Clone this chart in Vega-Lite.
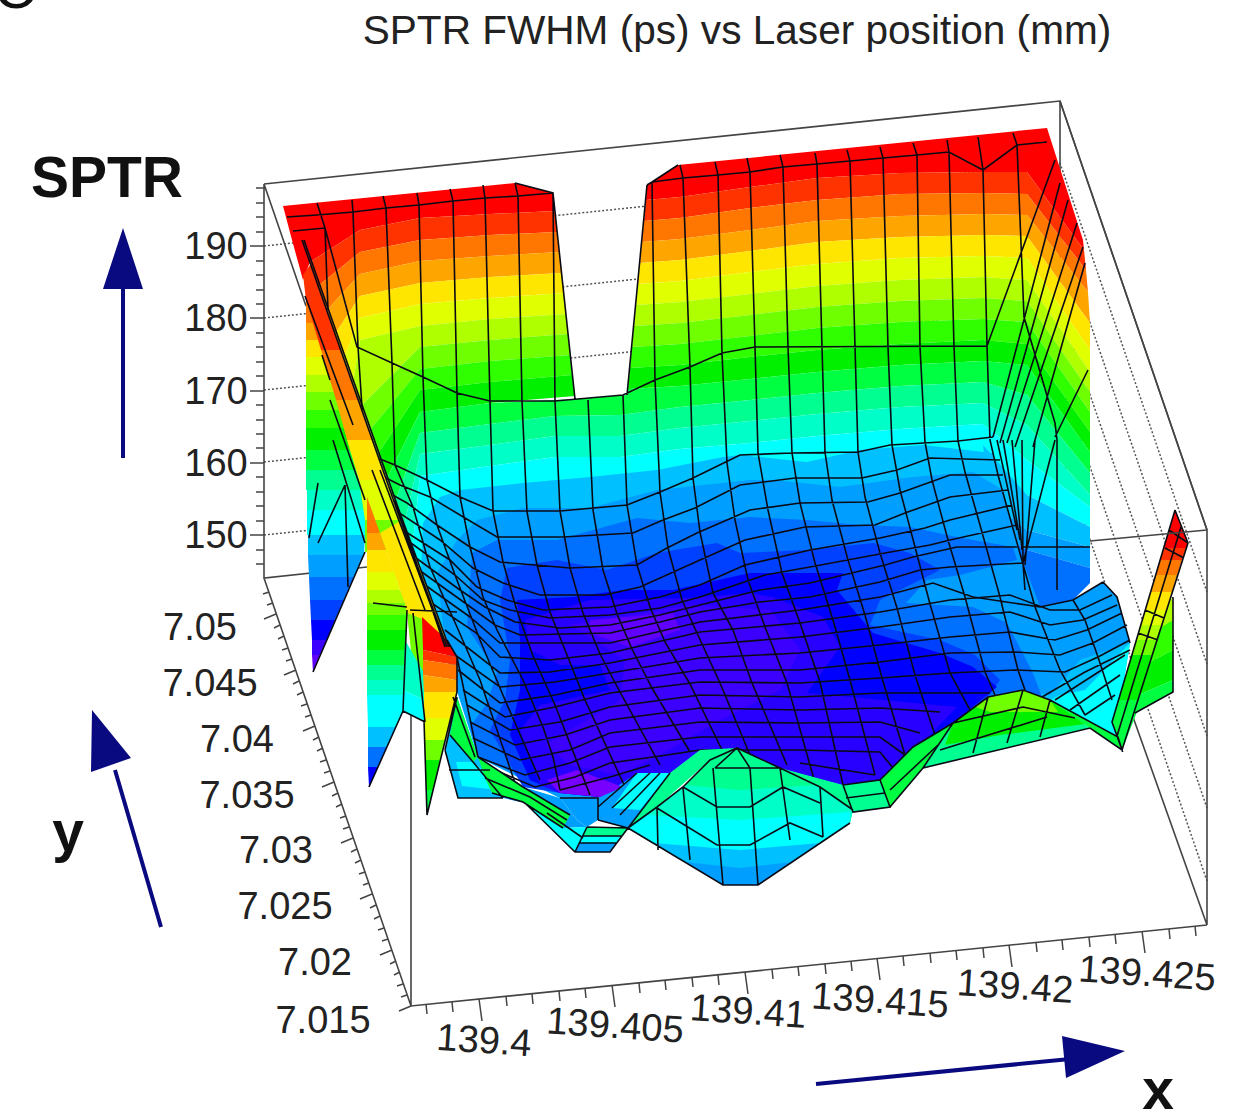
{"$schema":"https://vega.github.io/schema/vega-lite/v6.json","width":1234,"height":1110,"padding":0,"autosize":"none","background":"white","config":{"view":{"stroke":null}},"projection":{"type":"identity","scale":1,"translate":[0,0]},
"datasets":{
"grid":[{"type":"Feature","geometry":{"type":"MultiLineString","coordinates":[[[264,246],[1060,163],[1207,592]],[[264,318],[1060,235],[1207,664]],[[264,390],[1060,307],[1207,736]],[[264,462],[1060,379],[1207,808]],[[264,535],[1060,452],[1207,881]]]}}],
"backFrame":[{"type":"Feature","geometry":{"type":"MultiLineString","coordinates":[[[264,184],[1060,101],[1207,530],[1207,925]],[[264,184],[264,578],[367,567]],[[264,184],[306,306]],[[1060,101],[1060,300]],[[1133,717],[1207,925]],[[264,578],[411,1006],[1207,925]],[[411,712],[411,1006]]]}}],
"wall":[
{"type":"Feature","sptr":192,"geometry":{"type":"Polygon","coordinates":[[[283,206],[515,183],[553,193],[555,211],[490,214],[420,218],[360,230],[310,262],[303,280],[292,240],[283,206]]]}},
{"type":"Feature","sptr":189,"geometry":{"type":"Polygon","coordinates":[[[310,262],[360,230],[420,218],[490,214],[555,211],[557,232],[490,235],[420,240],[360,252],[318,286],[310,262]]]}},
{"type":"Feature","sptr":186,"geometry":{"type":"Polygon","coordinates":[[[318,286],[360,252],[420,240],[490,235],[557,232],[559,252],[490,256],[420,261],[360,274],[327,310],[318,286]]]}},
{"type":"Feature","sptr":183,"geometry":{"type":"Polygon","coordinates":[[[327,310],[360,274],[420,261],[490,256],[559,252],[562,273],[490,277],[420,283],[360,296],[335,334],[327,310]]]}},
{"type":"Feature","sptr":180,"geometry":{"type":"Polygon","coordinates":[[[335,334],[360,296],[420,283],[490,277],[562,273],[564,293],[490,298],[420,304],[360,318],[344,358],[335,334]]]}},
{"type":"Feature","sptr":177,"geometry":{"type":"Polygon","coordinates":[[[344,358],[360,318],[420,304],[490,298],[564,293],[566,314],[490,319],[420,326],[360,340],[353,382],[344,358]]]}},
{"type":"Feature","sptr":174,"geometry":{"type":"Polygon","coordinates":[[[353,382],[360,340],[420,326],[490,319],[566,314],[568,334],[490,340],[420,347],[361,406],[353,382]]]}},
{"type":"Feature","sptr":171,"geometry":{"type":"Polygon","coordinates":[[[361,406],[420,347],[490,340],[568,334],[570,355],[490,361],[420,369],[370,430],[361,406]]]}},
{"type":"Feature","sptr":168,"geometry":{"type":"Polygon","coordinates":[[[370,430],[420,369],[490,361],[570,355],[572,375],[490,382],[420,390],[378,454],[370,430]]]}},
{"type":"Feature","sptr":165,"geometry":{"type":"Polygon","coordinates":[[[378,454],[420,390],[490,382],[572,375],[575,396],[490,403],[420,412],[387,478],[378,454]]]}},
{"type":"Feature","sptr":192,"geometry":{"type":"Polygon","coordinates":[[[647,185],[678,165],[1047,128],[1083,240],[1084,250],[1027,172],[983,172],[900,173],[817,178],[750,187],[680,197],[646,200],[647,185]]]}},
{"type":"Feature","sptr":189,"geometry":{"type":"Polygon","coordinates":[[[646,200],[680,197],[750,187],[817,178],[900,173],[983,172],[1027,172],[1084,250],[1086,270],[1027,194],[983,193],[900,194],[817,200],[750,208],[680,218],[644,221],[646,200]]]}},
{"type":"Feature","sptr":186,"geometry":{"type":"Polygon","coordinates":[[[644,221],[680,218],[750,208],[817,200],[900,194],[983,193],[1027,194],[1086,270],[1088,292],[1027,215],[983,214],[900,216],[817,221],[750,230],[680,239],[642,242],[644,221]]]}},
{"type":"Feature","sptr":183,"geometry":{"type":"Polygon","coordinates":[[[642,242],[680,239],[750,230],[817,221],[900,216],[983,214],[1027,215],[1088,292],[1090,323],[1027,236],[983,235],[900,237],[817,242],[750,251],[680,260],[640,263],[642,242]]]}},
{"type":"Feature","sptr":180,"geometry":{"type":"Polygon","coordinates":[[[640,263],[680,260],[750,251],[817,242],[900,237],[983,235],[1027,236],[1090,323],[1090,350],[1027,258],[983,256],[900,258],[817,264],[750,272],[680,281],[638,284],[640,263]]]}},
{"type":"Feature","sptr":177,"geometry":{"type":"Polygon","coordinates":[[[638,284],[680,281],[750,272],[817,264],[900,258],[983,256],[1027,258],[1090,350],[1090,372],[1027,280],[983,277],[900,280],[817,286],[750,294],[680,302],[636,305],[638,284]]]}},
{"type":"Feature","sptr":174,"geometry":{"type":"Polygon","coordinates":[[[636,305],[680,302],[750,294],[817,286],[900,280],[983,277],[1027,280],[1090,372],[1090,392],[1027,301],[983,298],[900,301],[817,307],[750,315],[680,323],[634,326],[636,305]]]}},
{"type":"Feature","sptr":171,"geometry":{"type":"Polygon","coordinates":[[[634,326],[680,323],[750,315],[817,307],[900,301],[983,298],[1027,301],[1090,392],[1090,412],[1027,322],[983,319],[900,322],[817,328],[750,336],[680,344],[632,347],[634,326]]]}},
{"type":"Feature","sptr":168,"geometry":{"type":"Polygon","coordinates":[[[632,347],[680,344],[750,336],[817,328],[900,322],[983,319],[1027,322],[1090,412],[1090,432],[1027,344],[983,340],[900,344],[817,350],[750,357],[680,365],[630,368],[632,347]]]}},
{"type":"Feature","sptr":165,"geometry":{"type":"Polygon","coordinates":[[[630,368],[680,365],[750,357],[817,350],[900,344],[983,340],[1027,344],[1090,432],[1090,452],[1027,365],[983,361],[900,365],[817,372],[750,379],[680,386],[628,389],[630,368]]]}},
{"type":"Feature","sptr":162,"geometry":{"type":"Polygon","coordinates":[[[387,478],[420,412],[490,403],[575,399],[627,395],[628,389],[680,386],[750,379],[817,372],[900,365],[983,361],[1027,365],[1090,452],[1090,473],[1027,395],[983,382],[900,386],[817,393],[750,400],[680,407],[620,415],[555,416],[490,424],[420,433],[395,502],[387,478]]]}},
{"type":"Feature","sptr":159,"geometry":{"type":"Polygon","coordinates":[[[395,502],[420,433],[490,424],[555,416],[620,415],[680,407],[750,400],[817,393],[900,386],[983,382],[1027,395],[1090,473],[1090,495],[1027,425],[983,403],[900,407],[817,414],[750,421],[680,428],[620,436],[555,436],[490,445],[420,454],[404,526],[395,502]]]}},
{"type":"Feature","sptr":156,"geometry":{"type":"Polygon","coordinates":[[[404,526],[420,454],[490,445],[555,436],[620,436],[680,428],[750,421],[817,414],[900,407],[983,403],[1027,425],[1090,495],[1090,507],[1027,460],[983,424],[900,429],[817,436],[750,443],[680,449],[620,457],[555,457],[490,466],[420,476],[412,550],[404,526]]]}},
{"type":"Feature","sptr":153,"geometry":{"type":"Polygon","coordinates":[[[412,550],[420,476],[490,466],[555,457],[620,457],[680,449],[750,443],[817,436],[900,429],[983,424],[1027,460],[1090,507],[1090,527],[1027,495],[983,470],[900,472],[817,478],[750,484],[680,490],[620,498],[555,498],[490,507],[430,530],[421,574],[412,550]]]}},
{"type":"Feature","sptr":150,"geometry":{"type":"Polygon","coordinates":[[[983,445],[1027,495],[1090,527],[1090,547],[1027,530],[990,500],[983,445]]]}},
{"type":"Feature","sptr":147,"geometry":{"type":"Polygon","coordinates":[[[990,500],[1027,530],[1090,547],[1090,568],[1027,550],[990,530],[990,500]]]}},
{"type":"Feature","sptr":144,"geometry":{"type":"Polygon","coordinates":[[[990,530],[1027,550],[1090,568],[1090,583],[1073,600],[1040,607],[1000,590],[990,530]]]}}
],
"floor":[
{"type":"Feature","sptr":150,"geometry":{"type":"Polygon","coordinates":[[[421,574],[423,523],[440,497],[460,490],[523,483],[590,477],[657,470],[723,457],[740,455],[807,462],[860,450],[923,445],[993,453],[1017,547],[1040,607],[1073,600],[1103,582],[1117,597],[1130,643],[1115,735],[1050,700],[1023,690],[988,697],[953,723],[913,747],[880,780],[843,785],[780,768],[740,750],[700,750],[670,773],[637,773],[598,807],[560,798],[478,757],[447,650],[421,574]]]}},
{"type":"Feature","sptr":147,"geometry":{"type":"Polygon","coordinates":[[[437,573],[457,540],[477,520],[523,508],[590,508],[657,490],[750,480],[773,480],[840,487],[913,477],[973,472],[1003,490],[1017,547],[1040,607],[1073,600],[1103,582],[1117,597],[1130,643],[1080,660],[1050,695],[1023,690],[988,697],[953,723],[913,747],[880,780],[843,785],[780,768],[740,750],[700,750],[670,773],[637,773],[598,807],[560,798],[478,757],[447,660],[437,573]]]}},
{"type":"Feature","sptr":144,"geometry":{"type":"Polygon","coordinates":[[[472,553],[497,540],[557,540],[637,518],[690,523],[750,517],[807,520],[860,525],[910,527],[957,537],[1013,547],[1017,560],[960,575],[927,580],[906,603],[973,607],[1007,623],[1033,673],[1042,697],[1023,690],[988,697],[953,723],[913,747],[880,780],[843,785],[780,768],[740,750],[700,750],[670,773],[637,773],[600,797],[560,793],[478,757],[470,727],[487,703],[497,673],[467,627],[472,553]]]}},
{"type":"Feature","sptr":141,"geometry":{"type":"Polygon","coordinates":[[[507,568],[557,560],[607,570],[657,553],[717,543],[740,553],[807,550],[873,543],[910,553],[940,570],[880,600],[870,625],[940,640],[975,655],[1000,680],[988,697],[953,723],[913,747],[880,780],[843,785],[780,768],[740,750],[700,750],[670,773],[637,773],[600,797],[560,793],[523,787],[490,730],[505,700],[510,660],[500,600],[507,568]]]}},
{"type":"Feature","sptr":138,"geometry":{"type":"Polygon","coordinates":[[[517,600],[573,597],[623,590],[673,590],[750,573],[807,573],[843,573],[837,590],[873,633],[940,653],[973,667],[997,687],[953,723],[913,747],[880,780],[843,785],[780,768],[740,750],[700,750],[670,773],[637,773],[600,797],[560,793],[530,780],[510,735],[520,690],[520,640],[517,600]]]}},
{"type":"Feature","sptr":135,"geometry":{"type":"Polygon","coordinates":[[[525,620],[590,600],[690,598],[750,593],[773,597],[823,617],[840,647],[807,693],[883,700],[957,707],[930,735],[900,765],[880,780],[843,785],[780,768],[740,750],[700,750],[670,773],[637,773],[600,797],[560,793],[540,785],[520,730],[540,705],[610,690],[600,665],[560,665],[530,650],[525,620]]]}},
{"type":"Feature","sptr":132,"geometry":{"type":"Polygon","coordinates":[[[570,625],[690,605],[770,610],[800,650],[780,690],[720,720],[660,755],[620,775],[570,765],[545,745],[620,700],[625,660],[570,625]]]}},
{"type":"Feature","sptr":129,"geometry":{"type":"Polygon","coordinates":[[[590,620],[673,613],[680,630],[630,647],[590,633],[590,620]]]}},
{"type":"Feature","sptr":126,"geometry":{"type":"Polygon","coordinates":[[[547,780],[577,770],[623,787],[600,797],[560,793],[547,780]]]}},
{"type":"Feature","sptr":153,"geometry":{"type":"Polygon","coordinates":[[[1130,643],[1115,735],[1050,700],[1060,695],[1085,690],[1130,643]]]}}
],
"mesh":[{"type":"Feature","geometry":{"type":"MultiLineString","coordinates":[
[[287,217],[317,215],[353,212],[386,208],[419,205],[453,201],[485,198],[518,196],[553,193]],
[[515,183],[553,193],[575,399]],[[647,185],[627,395]],[[647,185],[652,182],[678,165]],
[[652,182],[683,178],[718,175],[750,172],[783,167],[817,164],[850,161],[883,158],[917,155],[949,152],[983,170],[1017,145],[1047,142]],
[[293,231],[325,228],[357,347],[392,363],[423,377],[457,393],[490,401],[555,401],[623,395],[655,380],[690,367],[722,353],[755,347],[987,346],[1055,160]],
[[317,203],[325,228],[328,310]],
[[352,200],[353,212],[358,347],[365,453]],
[[383,196],[386,208],[392,363],[395,465],[413,507],[430,567],[457,627],[480,680],[515,783]],
[[417,193],[419,205],[423,377],[427,480],[437,525],[455,575],[480,640],[505,700],[540,780]],
[[450,189],[453,201],[457,393],[460,497],[470,547],[483,597],[497,630],[523,680],[543,727],[553,757],[560,790]],
[[483,185],[485,198],[490,401],[493,511],[503,562],[517,611],[533,656],[555,705],[590,795]],
[[515,183],[518,196],[522,401],[527,512],[537,565],[550,612],[567,655],[585,700],[625,787]],
[[553,193],[555,401],[560,511],[570,568],[583,613],[600,654],[620,692],[660,765]],
[[588,400],[593,510],[603,570],[617,614],[632,649],[652,688],[690,752]],
[[623,395],[627,505],[637,565],[650,607],[665,642],[690,684],[722,750]],
[[652,182],[655,380],[660,492],[668,548],[682,600],[697,633],[720,683],[750,755]],
[[680,165],[683,178],[690,367],[693,478],[700,532],[713,593],[733,630],[752,683],[787,765]],
[[715,162],[718,175],[722,353],[727,463],[735,520],[748,580],[765,627],[787,683],[815,783]],
[[747,158],[750,172],[755,347],[758,453],[768,510],[782,573],[800,623],[820,682],[843,785]],
[[780,155],[783,167],[788,347],[792,453],[800,503],[815,563],[833,620],[850,680],[875,775]],
[[815,153],[817,164],[822,347],[825,452],[832,500],[848,560],[865,615],[882,678],[905,755]],
[[847,150],[850,161],[855,347],[858,452],[865,497],[880,553],[897,608],[915,675],[935,735]],
[[880,147],[883,158],[888,347],[892,445],[900,490],[915,547],[930,604],[950,673],[970,710]],
[[913,143],[917,155],[920,347],[925,442],[932,480],[948,540],[965,597],[985,672],[995,695]],
[[947,140],[949,152],[954,347],[958,441],[965,472],[980,525],[1000,597],[1018,670],[1025,690]],
[[978,137],[983,170],[987,346],[990,440],[998,475],[1012,525],[1035,607],[1060,670],[1085,715]],
[[1013,133],[1017,145],[1024,317],[1055,423],[1057,440],[1057,590]],
[[1073,600],[1085,620],[1098,657],[1112,700]],
[[993,437],[1060,183]],[[1000,443],[1068,200]],[[1007,443],[1077,223]],[[1015,447],[1083,247]],[[1033,447],[1085,263]],[[1055,437],[1088,370]],
[[997,440],[1017,530]],[[1003,440],[1020,540]],[[1012,440],[1022,550]],[[1022,440],[1023,563]],[[1035,440],[1025,565]],[[1055,440],[1023,563],[1025,590]],[[1023,547],[1090,547]],
[[1103,582],[1117,597],[1130,643]],[[1055,700],[1125,655]],[[1070,710],[1120,675]],[[1085,715],[1115,695]],[[1042,697],[1085,672],[1130,650]],
[[365,453],[395,465],[427,480],[460,497],[493,511],[560,511],[627,505],[660,492],[693,478],[740,455],[792,453],[858,452],[890,445],[958,441],[993,437]],
[[370,470],[400,485],[430,497],[465,518],[497,537],[563,537],[633,533],[663,520],[695,508],[740,485],[795,478],[862,478],[897,470],[930,458],[1000,460]],
[[378,487],[407,503],[437,525],[470,547],[500,562],[570,568],[637,565],[667,548],[697,533],[750,510],[800,503],[868,502],[900,493],[950,475],[1003,475]],
[[380,500],[440,540],[473,568],[503,583],[540,595],[605,595],[640,587],[700,560],[745,540],[805,527],[875,525],[905,513],[950,497],[1008,490]],
[[395,525],[450,560],[477,587],[507,600],[543,610],[610,607],[660,597],[700,585],[745,565],[810,550],[880,538],[925,528],[950,520],[1012,505]],
[[400,535],[455,575],[483,600],[510,610],[550,618],[610,615],[660,608],[700,597],[765,575],[810,567],[885,553],[930,545],[950,540],[1017,525]],
[[405,550],[460,590],[485,607],[515,622],[560,628],[610,625],[660,615],[700,605],[760,590],[810,583],[885,565],[913,557],[957,547],[1017,547]],
[[412,565],[465,603],[495,625],[520,635],[610,633],[660,622],[700,612],[760,602],[810,597],[880,582],[920,570],[950,567],[1023,563]],
[[418,580],[470,617],[500,643],[610,643],[700,622],[800,610],[880,597],[933,583],[973,597],[1040,607],[1073,600],[1103,582]],
[[427,600],[475,632],[500,657],[550,660],[610,653],[700,632],[800,623],[880,612],[950,600],[1010,595],[1050,610],[1080,610],[1112,595]],
[[445,630],[500,673],[550,672],[610,663],[700,645],[800,637],[880,627],[950,617],[1010,612],[1050,625],[1083,620],[1117,605]],
[[455,655],[500,687],[555,682],[610,673],[700,658],[800,653],[880,645],[950,637],[1010,632],[1055,640],[1087,630],[1122,613]],
[[458,670],[500,703],[555,695],[610,683],[700,670],[800,670],[880,662],[950,653],[1015,652],[1060,655],[1093,643],[1127,625]],
[[463,690],[505,717],[555,707],[610,693],[700,682],[800,683],[880,678],[950,673],[1015,670],[1065,672],[1098,657],[1130,640]],
[[467,705],[510,730],[560,722],[610,707],[700,695],[800,697],[880,693],[950,693],[990,693]],
[[470,722],[515,745],[565,735],[610,720],[700,708],[800,710],[880,708],[940,712]],
[[473,738],[520,760],[570,750],[610,733],[700,722],[800,723],[880,722],[920,733]],
[[478,757],[525,775],[570,763],[610,747],[700,737],[800,737],[880,737],[905,755]],
[[495,770],[535,787],[575,777],[610,763],[660,756],[700,750],[800,750],[880,752],[893,768]],
[[560,790],[610,777],[650,765]],[[800,763],[875,775]]
]}}],
"folds":[
{"type":"Feature","sptr":189,"geometry":{"type":"Polygon","coordinates":[[[303,275],[312,262],[323,300],[306,300],[303,275]]]}},
{"type":"Feature","sptr":186,"geometry":{"type":"Polygon","coordinates":[[[306,300],[323,300],[331,323],[306,323],[306,300]]]}},
{"type":"Feature","sptr":183,"geometry":{"type":"Polygon","coordinates":[[[306,323],[331,323],[337,340],[306,340],[306,323]]]}},
{"type":"Feature","sptr":180,"geometry":{"type":"Polygon","coordinates":[[[306,340],[337,340],[343,357],[306,357],[306,340]]]}},
{"type":"Feature","sptr":177,"geometry":{"type":"Polygon","coordinates":[[[306,357],[343,357],[349,375],[306,375],[306,357]]]}},
{"type":"Feature","sptr":174,"geometry":{"type":"Polygon","coordinates":[[[306,375],[349,375],[355,392],[306,392],[306,375]]]}},
{"type":"Feature","sptr":171,"geometry":{"type":"Polygon","coordinates":[[[306,392],[355,392],[362,410],[306,410],[306,392]]]}},
{"type":"Feature","sptr":168,"geometry":{"type":"Polygon","coordinates":[[[306,410],[362,410],[368,428],[306,428],[306,410]]]}},
{"type":"Feature","sptr":165,"geometry":{"type":"Polygon","coordinates":[[[306,428],[368,428],[376,450],[306,450],[306,428]]]}},
{"type":"Feature","sptr":162,"geometry":{"type":"Polygon","coordinates":[[[306,450],[376,450],[365,470],[306,470],[306,450]]]}},
{"type":"Feature","sptr":159,"geometry":{"type":"Polygon","coordinates":[[[306,470],[365,470],[365,490],[306,490],[306,470]]]}},
{"type":"Feature","sptr":156,"geometry":{"type":"Polygon","coordinates":[[[307,490],[365,490],[365,510],[307,510],[307,490]]]}},
{"type":"Feature","sptr":153,"geometry":{"type":"Polygon","coordinates":[[[307,510],[365,510],[365,535],[307,535],[307,510]]]}},
{"type":"Feature","sptr":150,"geometry":{"type":"Polygon","coordinates":[[[308,535],[365,535],[364,555],[308,555],[308,535]]]}},
{"type":"Feature","sptr":147,"geometry":{"type":"Polygon","coordinates":[[[308,555],[364,555],[354,577],[309,577],[308,555]]]}},
{"type":"Feature","sptr":144,"geometry":{"type":"Polygon","coordinates":[[[309,577],[354,577],[344,600],[310,600],[309,577]]]}},
{"type":"Feature","sptr":141,"geometry":{"type":"Polygon","coordinates":[[[310,600],[344,600],[335,620],[311,620],[310,600]]]}},
{"type":"Feature","sptr":138,"geometry":{"type":"Polygon","coordinates":[[[311,620],[335,620],[327,640],[312,640],[311,620]]]}},
{"type":"Feature","sptr":132,"geometry":{"type":"Polygon","coordinates":[[[312,640],[327,640],[320,655],[312,655],[312,640]]]}},
{"type":"Feature","sptr":129,"geometry":{"type":"Polygon","coordinates":[[[312,655],[320,655],[313,672],[312,655]]]}},
{"type":"Feature","sptr":189,"geometry":{"type":"Polygon","coordinates":[[[305,296],[322,296],[341,350],[321,350],[305,296]]]}},
{"type":"Feature","sptr":186,"geometry":{"type":"Polygon","coordinates":[[[321,350],[341,350],[359,400],[336,400],[321,350]]]}},
{"type":"Feature","sptr":183,"geometry":{"type":"Polygon","coordinates":[[[336,400],[359,400],[373,440],[347,440],[336,400]]]}},
{"type":"Feature","sptr":180,"geometry":{"type":"Polygon","coordinates":[[[347,440],[373,440],[387,480],[359,480],[347,440]]]}},
{"type":"Feature","sptr":177,"geometry":{"type":"Polygon","coordinates":[[[359,480],[387,480],[402,520],[365,520],[359,480]]]}},
{"type":"Feature","sptr":171,"geometry":{"type":"Polygon","coordinates":[[[365,520],[402,520],[413,552],[365,552],[365,520]]]}},
{"type":"Feature","sptr":180,"geometry":{"type":"Polygon","coordinates":[[[380,533],[402,520],[447,640],[425,640],[407,615],[400,590],[386,550],[380,533]]]}},
{"type":"Feature","sptr":171,"geometry":{"type":"Polygon","coordinates":[[[407,613],[425,620],[424,700],[412,660],[407,613]]]}},
{"type":"Feature","sptr":186,"geometry":{"type":"Polygon","coordinates":[[[367,497],[380,533],[367,533],[367,497]]]}},
{"type":"Feature","sptr":183,"geometry":{"type":"Polygon","coordinates":[[[367,533],[380,533],[386,550],[367,550],[367,533]]]}},
{"type":"Feature","sptr":180,"geometry":{"type":"Polygon","coordinates":[[[367,550],[386,550],[394,572],[367,572],[367,550]]]}},
{"type":"Feature","sptr":177,"geometry":{"type":"Polygon","coordinates":[[[367,572],[394,572],[400,590],[367,590],[367,572]]]}},
{"type":"Feature","sptr":174,"geometry":{"type":"Polygon","coordinates":[[[367,590],[400,590],[405,603],[367,603],[367,590]]]}},
{"type":"Feature","sptr":171,"geometry":{"type":"Polygon","coordinates":[[[367,603],[405,603],[407,615],[367,615],[367,603]]]}},
{"type":"Feature","sptr":168,"geometry":{"type":"Polygon","coordinates":[[[367,615],[407,615],[406,630],[367,630],[367,615]]]}},
{"type":"Feature","sptr":165,"geometry":{"type":"Polygon","coordinates":[[[367,630],[406,630],[406,650],[367,650],[367,630]]]}},
{"type":"Feature","sptr":162,"geometry":{"type":"Polygon","coordinates":[[[367,650],[406,650],[405,665],[367,665],[367,650]]]}},
{"type":"Feature","sptr":159,"geometry":{"type":"Polygon","coordinates":[[[367,665],[405,665],[404,680],[367,680],[367,665]]]}},
{"type":"Feature","sptr":156,"geometry":{"type":"Polygon","coordinates":[[[367,680],[404,680],[404,695],[367,695],[367,680]]]}},
{"type":"Feature","sptr":153,"geometry":{"type":"Polygon","coordinates":[[[367,695],[404,695],[403,711],[396,727],[368,727],[367,695]]]}},
{"type":"Feature","sptr":150,"geometry":{"type":"Polygon","coordinates":[[[368,727],[396,727],[387,747],[368,747],[368,727]]]}},
{"type":"Feature","sptr":144,"geometry":{"type":"Polygon","coordinates":[[[368,747],[387,747],[378,767],[368,767],[368,747]]]}},
{"type":"Feature","sptr":138,"geometry":{"type":"Polygon","coordinates":[[[368,767],[378,767],[369,787],[368,767]]]}},
{"type":"Feature","sptr":156,"geometry":{"type":"Polygon","coordinates":[[[405,640],[424,673],[424,700],[403,690],[405,640]]]}},
{"type":"Feature","sptr":153,"geometry":{"type":"Polygon","coordinates":[[[403,690],[424,700],[425,722],[403,711],[403,690]]]}},
{"type":"Feature","sptr":192,"geometry":{"type":"Polygon","coordinates":[[[422,617],[447,640],[457,657],[423,650],[422,617]]]}},
{"type":"Feature","sptr":189,"geometry":{"type":"Polygon","coordinates":[[[423,650],[457,657],[457,665],[423,660],[423,650]]]}},
{"type":"Feature","sptr":186,"geometry":{"type":"Polygon","coordinates":[[[423,660],[457,665],[457,680],[423,675],[423,660]]]}},
{"type":"Feature","sptr":183,"geometry":{"type":"Polygon","coordinates":[[[423,675],[457,680],[457,692],[424,692],[423,675]]]}},
{"type":"Feature","sptr":180,"geometry":{"type":"Polygon","coordinates":[[[424,692],[457,692],[451,718],[424,718],[424,692]]]}},
{"type":"Feature","sptr":177,"geometry":{"type":"Polygon","coordinates":[[[424,718],[451,718],[445,740],[425,740],[424,718]]]}},
{"type":"Feature","sptr":171,"geometry":{"type":"Polygon","coordinates":[[[425,740],[445,740],[440,760],[425,760],[425,740]]]}},
{"type":"Feature","sptr":165,"geometry":{"type":"Polygon","coordinates":[[[425,760],[440,760],[433,790],[426,790],[425,760]]]}},
{"type":"Feature","sptr":162,"geometry":{"type":"Polygon","coordinates":[[[426,790],[433,790],[427,815],[426,790]]]}},
{"type":"Feature","sptr":150,"geometry":{"type":"Polygon","coordinates":[[[458,798],[445,750],[457,697],[478,757],[503,798],[458,798]]]}},
{"type":"Feature","sptr":162,"geometry":{"type":"Polygon","coordinates":[[[457,697],[478,757],[473,762],[450,735],[457,697]]]}},
{"type":"Feature","sptr":153,"geometry":{"type":"Polygon","coordinates":[[[473,762],[490,776],[498,790],[462,786],[456,762],[473,762]]]}},
{"type":"Feature","sptr":147,"geometry":{"type":"Polygon","coordinates":[[[523,787],[560,798],[577,820],[587,827],[563,828],[525,803],[503,798],[492,793],[523,787]]]}},
{"type":"Feature","sptr":162,"geometry":{"type":"Polygon","coordinates":[[[478,757],[523,787],[570,815],[563,828],[523,802],[492,793],[485,778],[478,757]]]}},
{"type":"Feature","sptr":153,"geometry":{"type":"Polygon","coordinates":[[[525,803],[563,828],[587,827],[583,838],[575,852],[525,803]]]}},
{"type":"Feature","sptr":147,"geometry":{"type":"Polygon","coordinates":[[[560,798],[598,798],[598,820],[587,827],[577,820],[560,798]]]}},
{"type":"Feature","sptr":159,"geometry":{"type":"Polygon","coordinates":[[[587,827],[628,828],[622,836],[583,836],[587,827]]]}},
{"type":"Feature","sptr":153,"geometry":{"type":"Polygon","coordinates":[[[583,836],[622,836],[617,843],[579,843],[583,836]]]}},
{"type":"Feature","sptr":147,"geometry":{"type":"Polygon","coordinates":[[[579,843],[617,843],[610,852],[575,852],[579,843]]]}},
{"type":"Feature","sptr":147,"geometry":{"type":"Polygon","coordinates":[[[598,807],[637,773],[670,773],[628,828],[598,820],[598,807]]]}},
{"type":"Feature","sptr":153,"geometry":{"type":"Polygon","coordinates":[[[637,773],[670,773],[640,810],[612,808],[637,773]]]}},
{"type":"Feature","sptr":159,"geometry":{"type":"Polygon","coordinates":[[[670,773],[700,750],[737,748],[710,760],[657,807],[628,828],[670,773]]]}},
{"type":"Feature","sptr":159,"geometry":{"type":"Polygon","coordinates":[[[780,768],[843,785],[853,812],[820,787],[780,768]]]}},
{"type":"Feature","sptr":159,"geometry":{"type":"Polygon","coordinates":[[[628,828],[657,807],[683,787],[710,760],[737,748],[780,768],[820,787],[853,810],[850,823],[758,885],[723,885],[628,828]]]}},
{"type":"Feature","sptr":156,"geometry":{"type":"Polygon","coordinates":[[[685,785],[740,790],[816,785],[853,810],[850,823],[758,885],[723,885],[628,828],[657,807],[685,785]]]}},
{"type":"Feature","sptr":153,"geometry":{"type":"Polygon","coordinates":[[[647,815],[740,820],[850,812],[850,823],[758,885],[723,885],[628,828],[647,815]]]}},
{"type":"Feature","sptr":150,"geometry":{"type":"Polygon","coordinates":[[[653,843],[740,850],[820,843],[758,885],[723,885],[653,843]]]}},
{"type":"Feature","sptr":147,"geometry":{"type":"Polygon","coordinates":[[[685,862],[740,868],[792,862],[758,885],[723,885],[685,862]]]}},
{"type":"Feature","sptr":159,"geometry":{"type":"Polygon","coordinates":[[[843,785],[880,780],[890,807],[853,812],[843,785]]]}},
{"type":"Feature","sptr":162,"geometry":{"type":"Polygon","coordinates":[[[880,780],[913,747],[953,723],[923,768],[890,807],[880,780]]]}},
{"type":"Feature","sptr":159,"geometry":{"type":"Polygon","coordinates":[[[953,723],[988,697],[1023,690],[1050,700],[1090,728],[923,768],[953,723]]]}},
{"type":"Feature","sptr":165,"geometry":{"type":"Polygon","coordinates":[[[953,723],[988,697],[1023,690],[1050,700],[1085,724],[1000,735],[945,745],[953,723]]]}},
{"type":"Feature","sptr":171,"geometry":{"type":"Polygon","coordinates":[[[988,697],[1023,690],[1050,700],[1058,712],[990,712],[975,707],[988,697]]]}},
{"type":"Feature","sptr":162,"geometry":{"type":"Polygon","coordinates":[[[1050,700],[1118,737],[1122,750],[1090,728],[1050,700]]]}},
{"type":"Feature","sptr":174,"geometry":{"type":"Polygon","coordinates":[[[1173,597],[1173,620],[1150,650],[1140,640],[1173,597]]]}},
{"type":"Feature","sptr":168,"geometry":{"type":"Polygon","coordinates":[[[1173,620],[1173,650],[1135,670],[1140,640],[1173,620]]]}},
{"type":"Feature","sptr":165,"geometry":{"type":"Polygon","coordinates":[[[1173,650],[1173,680],[1127,700],[1135,670],[1173,650]]]}},
{"type":"Feature","sptr":162,"geometry":{"type":"Polygon","coordinates":[[[1173,680],[1173,692],[1137,712],[1122,750],[1127,700],[1173,680]]]}},
{"type":"Feature","sptr":192,"geometry":{"type":"Polygon","coordinates":[[[1175,510],[1188,543],[1186,548],[1164,548],[1175,510]]]}},
{"type":"Feature","sptr":189,"geometry":{"type":"Polygon","coordinates":[[[1164,548],[1186,548],[1182,560],[1160,560],[1164,548]]]}},
{"type":"Feature","sptr":186,"geometry":{"type":"Polygon","coordinates":[[[1160,560],[1182,560],[1177,575],[1156,575],[1160,560]]]}},
{"type":"Feature","sptr":183,"geometry":{"type":"Polygon","coordinates":[[[1156,575],[1177,575],[1172,592],[1151,592],[1156,575]]]}},
{"type":"Feature","sptr":180,"geometry":{"type":"Polygon","coordinates":[[[1151,592],[1172,592],[1166,610],[1145,610],[1151,592]]]}},
{"type":"Feature","sptr":177,"geometry":{"type":"Polygon","coordinates":[[[1145,610],[1166,610],[1161,625],[1141,625],[1145,610]]]}},
{"type":"Feature","sptr":174,"geometry":{"type":"Polygon","coordinates":[[[1141,625],[1161,625],[1156,640],[1136,640],[1141,625]]]}},
{"type":"Feature","sptr":171,"geometry":{"type":"Polygon","coordinates":[[[1136,640],[1156,640],[1151,655],[1132,655],[1136,640]]]}},
{"type":"Feature","sptr":165,"geometry":{"type":"Polygon","coordinates":[[[1132,655],[1151,655],[1137,700],[1119,700],[1132,655]]]}},
{"type":"Feature","sptr":162,"geometry":{"type":"Polygon","coordinates":[[[1119,700],[1137,700],[1122,750],[1112,722],[1119,700]]]}}
],
"foldLines":[{"type":"Feature","geometry":{"type":"MultiLineString","coordinates":[
[[302,240],[397,510],[447,647]],[[304,240],[399,510],[449,647]],[[395,500],[445,647]],[[380,470],[440,630]],[[372,470],[425,610]],
[[322,355],[330,380]],[[330,400],[365,500]],[[305,296],[353,425]],
[[318,483],[309,538]],[[345,485],[318,543]],[[345,485],[348,587]],[[333,440],[365,543]],[[365,552],[313,672]],
[[373,603],[407,607]],[[407,610],[403,711]],[[413,613],[425,722]],[[369,787],[403,711]],[[403,711],[425,722]],[[410,610],[457,612]],
[[447,640],[457,657],[457,692],[427,815],[424,720]],[[457,657],[478,757]],[[453,697],[475,757]],
[[445,750],[458,798],[503,798]],[[457,697],[445,750]],[[450,735],[473,762],[503,798]],[[449,770],[490,770]],
[[478,757],[523,787],[570,815]],[[492,793],[523,802],[563,828]],[[485,778],[530,797],[567,820]],[[525,803],[575,852],[610,852],[628,828]],[[547,813],[583,838]],[[587,827],[628,828]],[[583,836],[622,836]],[[579,843],[617,843]],[[587,827],[575,852]],
[[560,798],[598,798],[598,820]],[[598,807],[637,773]],[[670,773],[628,828]],[[612,808],[650,773]],[[620,815],[660,773]],[[598,820],[628,828]],
[[628,828],[657,807],[683,787],[710,760],[737,748],[780,768],[820,787],[853,810]],[[628,828],[723,885],[758,885],[850,823]],
[[715,768],[750,768],[780,768]],[[657,808],[717,845],[750,845],[790,823],[823,837]],[[683,787],[717,807],[750,807],[783,787],[820,803]],[[683,788],[690,860]],[[657,808],[658,850]],[[713,768],[723,885]],[[737,748],[715,768]],[[737,748],[750,768],[758,885]],[[780,768],[790,840]],[[820,787],[823,837]],
[[843,785],[853,812],[890,807],[880,780],[843,785]],[[846,798],[885,793]],[[880,780],[913,747],[953,723],[923,768],[890,807]],[[890,790],[938,745]],
[[953,723],[988,697],[1023,690],[1050,700],[1118,737],[1122,750],[1090,728],[923,768]],[[988,697],[973,753]],[[1023,690],[1007,743]],[[1050,700],[1040,737]],[[953,723],[1023,707],[1075,718]],[[940,750],[1047,717]],
[[1175,510],[1188,543],[1122,750],[1112,722],[1175,510]],[[1181,527],[1117,736]],[[1169,530],[1188,543]],[[1165,548],[1184,558]],[[1145,610],[1164,618]],[[1138,633],[1158,640]],[[1135,713],[1173,692],[1173,597]]
]}}],
"frontFrame":[{"type":"Feature","geometry":{"type":"MultiLineString","coordinates":[[[1090,541],[1207,530]],[[1060,101],[1207,530]]]}}],
"ticks":[{"type":"Feature","geometry":{"type":"MultiLineString","coordinates":[
[[264,246],[250,246]],[[264,318],[250,318]],[[264,391],[250,391]],[[264,463],[250,463]],[[264,535],[250,535]],
[[264,564],[256,564]],[[264,550],[256,550]],[[264,521],[256,521]],[[264,506],[256,506]],[[264,492],[256,492]],[[264,477],[256,477]],[[264,448],[256,448]],[[264,434],[256,434]],[[264,420],[256,420]],[[264,405],[256,405]],[[264,376],[256,376]],[[264,362],[256,362]],[[264,347],[256,347]],[[264,333],[256,333]],[[264,304],[256,304]],[[264,290],[256,290]],[[264,275],[256,275]],[[264,261],[256,261]],[[264,232],[256,232]],[[264,217],[256,217]],[[264,203],[256,203]],[[264,188],[256,188]],
[[411,1006],[399,1011]],[[392,950],[380,955]],[[372,894],[360,899]],[[353,838],[341,843]],[[334,782],[322,787]],[[315,726],[303,731]],[[296,670],[284,675]],[[276,614],[264,619]],
[[407,995],[401,997]],[[403,984],[397,986]],[[400,972],[394,975]],[[396,961],[390,964]],[[388,939],[382,941]],[[384,928],[378,930]],[[380,916],[374,919]],[[376,905],[370,908]],[[369,883],[363,885]],[[365,872],[359,874]],[[361,860],[355,863]],[[357,849],[351,852]],[[349,827],[343,829]],[[346,816],[340,818]],[[342,804],[336,807]],[[338,793],[332,796]],[[330,771],[324,773]],[[326,760],[320,762]],[[323,748],[317,751]],[[319,737],[313,740]],[[311,715],[305,717]],[[307,704],[301,706]],[[303,692],[297,695]],[[299,681],[293,684]],[[292,659],[286,661]],[[288,648],[282,650]],[[284,636],[278,639]],[[280,625],[274,628]],[[273,603],[267,605]],[[269,592],[263,594]],
[[479,999],[482,1021]],[[612,985],[615,1007]],[[745,972],[748,994]],[[877,958],[880,980]],[[1009,945],[1012,967]],[[1142,931],[1145,953]],
[[426,1004],[427,1014]],[[452,1002],[453,1012]],[[506,996],[507,1006]],[[532,994],[533,1004]],[[559,991],[560,1001]],[[585,988],[586,998]],[[639,983],[640,993]],[[665,980],[666,990]],[[692,977],[693,987]],[[718,975],[719,985]],[[772,969],[773,979]],[[798,966],[799,976]],[[825,964],[826,974]],[[851,961],[852,971]],[[903,956],[904,966]],[[930,953],[931,963]],[[956,950],[957,960]],[[983,948],[984,958]],[[1036,942],[1037,952]],[[1062,940],[1063,950]],[[1089,937],[1090,947]],[[1115,934],[1116,944]],[[1169,929],[1170,939]],[[1195,926],[1196,936]]
]}}],
"arrowShafts":[{"type":"Feature","geometry":{"type":"MultiLineString","coordinates":[[[123,458],[123,285]],[[161,927],[115,770]],[[816,1084],[1070,1059]]]}}],
"arrowHeads":[{"type":"Feature","geometry":{"type":"MultiPolygon","coordinates":[[[[123,228],[103,289],[143,289],[123,228]]],[[[92,710],[91,772],[131,758],[92,710]]],[[[1125,1051],[1062,1036],[1066,1078],[1125,1051]]]]}}]
},
"layer":[
{"data":{"name":"grid"},"mark":{"type":"geoshape","filled":false,"stroke":"#555555","strokeWidth":1.5,"strokeDash":[2,2]}},
{"data":{"name":"backFrame"},"mark":{"type":"geoshape","filled":false,"stroke":"#444444","strokeWidth":1.6}},
{"data":{"name":"wall"},"mark":{"type":"geoshape","strokeWidth":0.5},"encoding":{"fill":{"field":"sptr","type":"ordinal","legend":null,"scale":{"domain":[192,189,186,183,180,177,174,171,168,165,162,159,156,153,150,147,144,141,138,135,132,129,126],"range":["#ff0000","#ff3300","#ff7700","#ffa500","#ffe600","#e0ff00","#b0ff00","#70ff00","#30ff00","#00f000","#00ff40","#00ff90","#00ffc8","#00ffff","#00c0ff","#009fff","#0070ff","#0040ff","#0000ff","#2800ff","#3c00ff","#6000ff","#7800ff"]}}}},
{"data":{"name":"floor"},"mark":{"type":"geoshape","strokeWidth":0},"encoding":{"fill":{"field":"sptr","type":"ordinal","legend":null}}},
{"data":{"name":"mesh"},"mark":{"type":"geoshape","filled":false,"stroke":"#0a0a14","strokeWidth":1.6}},
{"data":{"name":"folds"},"mark":{"type":"geoshape","strokeWidth":0},"encoding":{"fill":{"field":"sptr","type":"ordinal","legend":null}}},
{"data":{"name":"foldLines"},"mark":{"type":"geoshape","filled":false,"stroke":"#0a0a14","strokeWidth":1.6}},
{"data":{"name":"frontFrame"},"mark":{"type":"geoshape","filled":false,"stroke":"#444444","strokeWidth":1.6}},
{"data":{"name":"ticks"},"mark":{"type":"geoshape","filled":false,"stroke":"#444444","strokeWidth":1.5}},
{"data":{"name":"arrowShafts"},"mark":{"type":"geoshape","filled":false,"stroke":"#0a0a80","strokeWidth":4}},
{"data":{"name":"arrowHeads"},"mark":{"type":"geoshape","fill":"#0a0a80","stroke":null}},
{"data":{"values":[{"label":"SPTR FWHM (ps) vs Laser position (mm)","lon":737,"lat":32}]},"mark":{"type":"text","font":"Liberation Sans","fontSize":40.6,"fill":"#222222","align":"center","baseline":"middle"},"encoding":{"longitude":{"field":"lon","type":"quantitative"},"latitude":{"field":"lat","type":"quantitative"},"text":{"field":"label"}}},
{"data":{"values":[{"label":"190","lon":216,"lat":248},{"label":"180","lon":216,"lat":320},{"label":"170","lon":216,"lat":393},{"label":"160","lon":216,"lat":465},{"label":"150","lon":216,"lat":537},{"label":"7.05","lon":200,"lat":629},{"label":"7.045","lon":210,"lat":685},{"label":"7.04","lon":237,"lat":741},{"label":"7.035","lon":247,"lat":797},{"label":"7.03","lon":276,"lat":852},{"label":"7.025","lon":285,"lat":908},{"label":"7.02","lon":315,"lat":964},{"label":"7.015","lon":323,"lat":1022}]},"mark":{"type":"text","font":"Liberation Sans","fontSize":38,"fill":"#222222","align":"center","baseline":"middle"},"encoding":{"longitude":{"field":"lon","type":"quantitative"},"latitude":{"field":"lat","type":"quantitative"},"text":{"field":"label"}}},
{"data":{"values":[{"label":"139.4","lon":484,"lat":1042},{"label":"139.405","lon":615,"lat":1027},{"label":"139.41","lon":748,"lat":1013},{"label":"139.415","lon":880,"lat":1002},{"label":"139.42","lon":1015,"lat":988},{"label":"139.425","lon":1147,"lat":975}]},"mark":{"type":"text","font":"Liberation Sans","fontSize":38,"fill":"#222222","align":"center","baseline":"middle","angle":4},"encoding":{"longitude":{"field":"lon","type":"quantitative"},"latitude":{"field":"lat","type":"quantitative"},"text":{"field":"label"}}},
{"data":{"values":[{"label":"SPTR","lon":107,"lat":180},{"label":"y","lon":68,"lat":834},{"label":"x","lon":1158,"lat":1092}]},"mark":{"type":"text","font":"Liberation Sans","fontWeight":"bold","fontSize":57,"fill":"#111111","align":"center","baseline":"middle"},"encoding":{"longitude":{"field":"lon","type":"quantitative"},"latitude":{"field":"lat","type":"quantitative"},"text":{"field":"label"}}},
{"data":{"values":[{"label":"C","lon":15,"lat":-10}]},"mark":{"type":"text","font":"Liberation Sans","fontSize":60,"fill":"#111111","align":"center","baseline":"middle"},"encoding":{"longitude":{"field":"lon","type":"quantitative"},"latitude":{"field":"lat","type":"quantitative"},"text":{"field":"label"}}}
]}
